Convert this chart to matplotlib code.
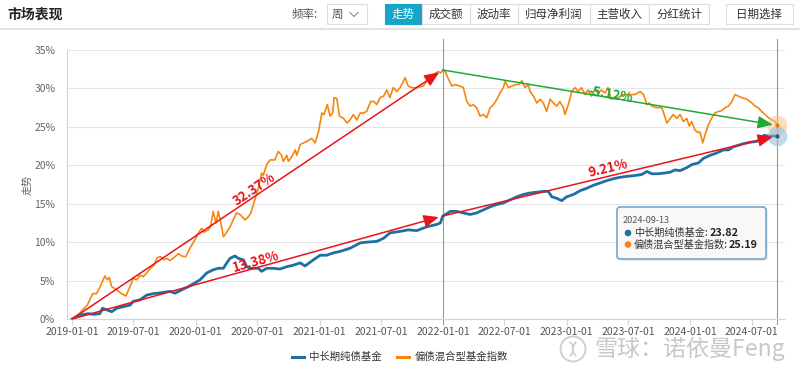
import numpy as np
import pandas as pd
import matplotlib
matplotlib.use('Agg')
import matplotlib.pyplot as plt
import matplotlib.dates as mdates
from matplotlib.patches import Rectangle, FancyBboxPatch, Circle, Arc
from matplotlib.lines import Line2D

plt.rcParams['font.family'] = ['Noto Sans CJK SC', 'DejaVu Sans']

# 偏债混合型基金指数 (%)
orange_dates = [
    '2019-01-01', '2019-01-22', '2019-02-15', '2019-03-03', '2019-03-14', '2019-03-25', '2019-04-08',
    '2019-04-15', '2019-04-21', '2019-04-28', '2019-05-13', '2019-05-27', '2019-06-09', '2019-06-21',
    '2019-07-01', '2019-07-11', '2019-07-21', '2019-07-30', '2019-08-10', '2019-08-20', '2019-08-31',
    '2019-09-10', '2019-09-20', '2019-09-28', '2019-10-08', '2019-10-17', '2019-10-27', '2019-11-11',
    '2019-11-21', '2019-12-03', '2019-12-15', '2019-12-30', '2020-01-09', '2020-01-19', '2020-01-26',
    '2020-02-07', '2020-02-14', '2020-02-22', '2020-03-01', '2020-03-08', '2020-03-15', '2020-03-23',
    '2020-04-02', '2020-04-12', '2020-04-21', '2020-05-01', '2020-05-11', '2020-05-26', '2020-06-05',
    '2020-06-12', '2020-06-24', '2020-07-04', '2020-07-14', '2020-07-19', '2020-07-29', '2020-08-08',
    '2020-08-22', '2020-09-01', '2020-09-11', '2020-09-16', '2020-09-26', '2020-10-01', '2020-10-11',
    '2020-10-21', '2020-10-26', '2020-11-05', '2020-11-14', '2020-11-24', '2020-12-09', '2020-12-19',
    '2020-12-29', '2021-01-08', '2021-01-14', '2021-01-24', '2021-02-01', '2021-02-09', '2021-02-13',
    '2021-02-21', '2021-03-01', '2021-03-13', '2021-03-23', '2021-04-01', '2021-04-11', '2021-04-21',
    '2021-05-01', '2021-05-10', '2021-05-20', '2021-06-01', '2021-06-11', '2021-06-19', '2021-06-29',
    '2021-07-09', '2021-07-19', '2021-07-28', '2021-08-07', '2021-08-17', '2021-08-27', '2021-09-11',
    '2021-09-20', '2021-09-30', '2021-10-15', '2021-11-03', '2021-11-18', '2021-12-03', '2021-12-18',
    '2021-12-25', '2021-12-31', '2022-01-07', '2022-01-17', '2022-01-27', '2022-02-05', '2022-02-20',
    '2022-03-02', '2022-03-12', '2022-03-22', '2022-03-31', '2022-04-10', '2022-04-20', '2022-04-30',
    '2022-05-10', '2022-05-20', '2022-05-30', '2022-06-09', '2022-06-18', '2022-06-28', '2022-07-03',
    '2022-07-13', '2022-07-23', '2022-08-02', '2022-08-12', '2022-08-22', '2022-08-31', '2022-09-10',
    '2022-09-15', '2022-09-25', '2022-10-05', '2022-10-15', '2022-10-24', '2022-11-03', '2022-11-13',
    '2022-11-23', '2022-12-03', '2022-12-12', '2022-12-22', '2022-12-27', '2023-01-06', '2023-01-16',
    '2023-01-26', '2023-02-04', '2023-02-14', '2023-02-24', '2023-03-05', '2023-03-15', '2023-03-25',
    '2023-04-04', '2023-04-14', '2023-04-24', '2023-05-03', '2023-05-13', '2023-05-23', '2023-06-02',
    '2023-06-17', '2023-07-07', '2023-07-22', '2023-08-06', '2023-08-16', '2023-08-26', '2023-09-02',
    '2023-09-09', '2023-09-24', '2023-10-09', '2023-10-16', '2023-10-24', '2023-11-03', '2023-11-12',
    '2023-11-22', '2023-12-02', '2023-12-12', '2023-12-22', '2023-12-29', '2024-01-05', '2024-01-15',
    '2024-01-22', '2024-01-30', '2024-02-07', '2024-02-14', '2024-02-24', '2024-03-05', '2024-03-14',
    '2024-03-24', '2024-04-03', '2024-04-13', '2024-04-23', '2024-05-03', '2024-05-12', '2024-05-22',
    '2024-06-01', '2024-06-16', '2024-07-01', '2024-07-11', '2024-07-20', '2024-07-30', '2024-08-09',
    '2024-08-19', '2024-08-29', '2024-09-08', '2024-09-13']
orange_vals = [
    0.0, 0.7, 1.8, 3.3, 3.3, 4.2, 5.6,
    5.1, 5.4, 4.2, 3.8, 3.3, 3.0, 4.2,
    5.3, 5.1, 5.7, 5.5, 6.0, 6.6, 7.0,
    8.0, 8.1, 7.7, 7.9, 7.6, 7.9, 8.5,
    8.2, 8.1, 9.2, 10.3, 11.2, 11.8, 11.3,
    11.6, 12.0, 14.0, 12.5, 14.0, 12.6, 10.7,
    11.3, 12.0, 12.9, 13.8, 13.6, 12.9, 13.3,
    13.8, 15.5, 17.0, 19.0, 18.7, 20.1, 20.7,
    20.7, 21.8, 21.3, 20.5, 21.3, 20.5, 21.1,
    22.0, 21.3, 22.7, 22.9, 23.1, 23.5, 22.9,
    24.4, 26.8, 26.6, 27.9, 26.4, 26.8, 28.8,
    28.7, 26.4, 26.1, 25.5, 25.9, 26.6, 25.9,
    26.8, 26.8, 27.0, 28.3, 28.3, 27.9, 28.8,
    29.0, 29.8, 28.8, 30.1, 29.6, 30.1, 31.4,
    30.3, 30.1, 30.1, 30.3, 31.2, 31.8, 32.2,
    32.0, 32.4, 32.2, 31.2, 30.3, 30.5, 30.3,
    30.1, 28.3, 27.7, 27.9, 27.5, 26.4, 26.6,
    26.2, 27.5, 27.9, 28.6, 29.4, 30.1, 30.9,
    30.1, 30.3, 30.5, 30.5, 31.0, 30.1, 30.5,
    29.6, 29.0, 28.1, 28.6, 28.1, 27.0, 28.6,
    28.1, 27.7, 28.3, 27.5, 26.6, 27.9, 29.6,
    30.1, 29.6, 30.1, 29.2, 29.8, 29.0, 29.8,
    29.4, 29.8, 29.4, 30.1, 28.6, 28.8, 28.8,
    29.2, 29.2, 29.2, 29.6, 29.2, 27.9, 28.1,
    27.7, 27.5, 27.5, 26.6, 25.5, 26.1, 26.6,
    26.1, 26.6, 25.7, 26.1, 25.1, 25.7, 24.6,
    24.3, 24.3, 22.9, 24.0, 25.3, 26.2, 26.8,
    27.0, 27.1, 27.5, 27.7, 28.3, 29.2, 29.0,
    28.8, 28.6, 28.1, 27.7, 27.5, 27.0, 26.6,
    26.2, 25.9, 25.7, 25.19]

# 中长期纯债基金 (%)
blue_dates = [
    '2019-01-01', '2019-01-24', '2019-02-18', '2019-03-05', '2019-03-24', '2019-04-01', '2019-04-13',
    '2019-04-28', '2019-05-13', '2019-06-01', '2019-06-21', '2019-07-01', '2019-07-21', '2019-08-09',
    '2019-08-29', '2019-09-18', '2019-10-17', '2019-11-01', '2019-11-21', '2019-12-10', '2019-12-30',
    '2020-01-14', '2020-02-03', '2020-02-22', '2020-03-08', '2020-03-23', '2020-04-02', '2020-04-12',
    '2020-04-26', '2020-05-06', '2020-05-21', '2020-05-31', '2020-06-10', '2020-06-19', '2020-07-04',
    '2020-07-14', '2020-07-29', '2020-08-17', '2020-09-06', '2020-09-26', '2020-10-15', '2020-11-05',
    '2020-11-19', '2020-12-14', '2021-01-03', '2021-01-22', '2021-02-11', '2021-03-03', '2021-04-01',
    '2021-05-01', '2021-05-20', '2021-06-19', '2021-07-09', '2021-07-28', '2021-08-27', '2021-09-20',
    '2021-10-15', '2021-11-14', '2021-12-13', '2021-12-24', '2021-12-31', '2022-01-12', '2022-01-22',
    '2022-02-10', '2022-03-02', '2022-03-22', '2022-04-10', '2022-04-30', '2022-05-20', '2022-06-09',
    '2022-06-28', '2022-07-18', '2022-08-07', '2022-08-26', '2022-09-15', '2022-10-05', '2022-10-24',
    '2022-11-08', '2022-11-18', '2022-12-03', '2022-12-17', '2023-01-01', '2023-01-21', '2023-02-10',
    '2023-03-01', '2023-03-21', '2023-04-10', '2023-04-29', '2023-05-19', '2023-06-03', '2023-06-17',
    '2023-07-07', '2023-07-27', '2023-08-11', '2023-08-26', '2023-09-09', '2023-09-29', '2023-10-19',
    '2023-11-03', '2023-11-17', '2023-12-02', '2023-12-22', '2024-01-06', '2024-01-25', '2024-02-09',
    '2024-02-29', '2024-03-19', '2024-04-08', '2024-04-23', '2024-05-07', '2024-05-22', '2024-06-06',
    '2024-06-26', '2024-07-15', '2024-07-30', '2024-08-06', '2024-08-19', '2024-08-30', '2024-09-13']
blue_vals = [
    0.0, 0.5, 0.7, 0.6, 0.7, 1.4, 1.2,
    0.95, 1.4, 1.6, 1.8, 2.3, 2.5, 3.1,
    3.3, 3.4, 3.6, 3.35, 3.8, 4.2, 4.7,
    5.1, 6.0, 6.4, 6.6, 6.6, 7.3, 7.9,
    8.2, 7.9, 7.7, 6.8, 6.6, 6.6, 6.6,
    6.2, 6.6, 6.6, 6.5, 6.8, 7.0, 7.3,
    6.9, 7.7, 8.3, 8.3, 8.6, 8.8, 9.2,
    9.9, 10.0, 10.1, 10.5, 11.2, 11.4, 11.6,
    11.5, 12.0, 12.3, 12.5, 13.4, 13.7, 14.0,
    14.0, 13.8, 13.6, 13.8, 14.2, 14.6, 14.9,
    15.1, 15.5, 15.9, 16.2, 16.4, 16.5, 16.6,
    16.6, 15.9, 15.7, 15.4, 15.9, 16.2, 16.7,
    17.0, 17.4, 17.7, 18.0, 18.25, 18.4, 18.5,
    18.6, 18.7, 18.8, 19.2, 18.9, 18.9, 19.0,
    19.1, 19.4, 19.3, 19.7, 20.1, 20.3, 20.9,
    21.3, 21.6, 22.0, 22.0, 22.4, 22.6, 22.8,
    23.0, 23.1, 23.5, 23.9, 23.8, 23.8, 23.82]

series_names = ['中长期纯债基金', '偏债混合型基金指数']
arrow_labels = ['32.37%', '13.38%', '9.21%', '-5.12%']
tick_dates = pd.date_range('2019-01-01', '2024-07-01', freq='6MS')
pivot = pd.Timestamp('2022-01-01')
tip_date = '2024-09-13'

BLUE = '#1f6fa3'
ORANGE = '#f7860f'
RED = '#e8141b'
GREEN = '#1faa37'

od = mdates.date2num(pd.to_datetime(orange_dates))
bd = mdates.date2num(pd.to_datetime(blue_dates))
ov_ = np.array(orange_vals)
bv_ = np.array(blue_vals)

fig = plt.figure(figsize=(8, 3.72), dpi=100)
ax = fig.add_axes([67 / 800, 1 - 319 / 372, (785 - 67) / 800, (319 - 50) / 372])

ax.plot(od, ov_, color=ORANGE, lw=1.2, zorder=3)
ax.plot(bd, bv_, color=BLUE, lw=2.0, zorder=4)

ax.set_xlim(mdates.date2num(pd.Timestamp('2018-12-17')), mdates.date2num(pd.Timestamp('2024-10-07')))
ax.set_ylim(0, 35)
ax.set_yticks(range(0, 36, 5))
ax.set_yticklabels([f'{v}%' for v in range(0, 36, 5)])
ax.set_xticks(mdates.date2num(tick_dates))
ax.set_xticklabels([d.strftime('%Y-%m-%d') for d in tick_dates])
ax.tick_params(axis='y', length=0, pad=8.5, labelsize=7.5, labelcolor='#666666')
ax.tick_params(axis='x', length=4, width=0.8, color='#ccd6eb', pad=2, labelsize=7.5, labelcolor='#555555')
ax.yaxis.grid(True, color='#e6e6e6', lw=0.8)
ax.set_axisbelow(True)
for s in ['top', 'right']:
    ax.spines[s].set_visible(False)
for s in ['left', 'bottom']:
    ax.spines[s].set_color('#ccd6eb')
    ax.spines[s].set_linewidth(0.8)

# crosshair-like vertical lines
pnum = mdates.date2num(pivot)
end_num = mdates.date2num(pd.Timestamp(tip_date))
for xv in [pnum, end_num]:
    ax.axvline(xv, ymin=-0.02, ymax=1.04, color='#999999', lw=0.8, clip_on=False, zorder=2)

# arrows
oi = int(np.argmin(np.abs(od - pnum)))
bi = int(np.argmin(np.abs(bd - pnum)))
segments = [
    ((od[0], ov_[0]), (od[oi], ov_[oi]), RED, arrow_labels[0], 6),
    ((bd[0], bv_[0]), (bd[bi], bv_[bi]), RED, arrow_labels[1], 6),
    ((bd[bi], bv_[bi]), (bd[-1], bv_[-1]), RED, arrow_labels[2], 8),
    ((od[oi], ov_[oi]), (od[-1], ov_[-1]), GREEN, arrow_labels[3], 3),
]
for p0, p1, col, lab, off in segments:
    ax.annotate('', xy=p1, xytext=p0,
                arrowprops=dict(arrowstyle='-|>,head_length=0.9,head_width=0.38',
                                color=col, lw=1.1, shrinkA=0, shrinkB=3, mutation_scale=10),
                zorder=6)
    a = ax.transData.transform(p0)
    b = ax.transData.transform(p1)
    ang = np.degrees(np.arctan2(b[1] - a[1], b[0] - a[0]))
    mid = ((p0[0] + p1[0]) / 2, (p0[1] + p1[1]) / 2)
    t = np.radians(ang)
    dx, dy = -np.sin(t) * off * 0.72, np.cos(t) * off * 0.72
    ax.annotate(lab, xy=mid, xytext=(dx, dy), textcoords='offset points',
                rotation=ang, rotation_mode='anchor', ha='center', va='center',
                color=col, fontsize=9.5, fontweight='bold', zorder=7)

# end markers
ax.scatter([od[-1]], [ov_[-1]], s=200, color='#f9c38e', alpha=0.55, zorder=5, clip_on=False, lw=0)
ax.scatter([bd[-1]], [bv_[-1]], s=200, color='#8fbcd9', alpha=0.55, zorder=5, clip_on=False, lw=0)
ax.scatter([od[-1]], [ov_[-1]], s=9, color='#e8760a', zorder=8, clip_on=False, lw=0)
ax.scatter([bd[-1]], [bv_[-1]], s=9, color='#185f8f', zorder=8, clip_on=False, lw=0)

# overlay in pixel coords for header, tooltip, legend, watermark
ov = fig.add_axes([0, 0, 1, 1], zorder=5)
ov.set_xlim(0, 800)
ov.set_ylim(372, 0)
ov.axis('off')
ov.patch.set_alpha(0)

ov.text(7, 15, '市场表现', fontsize=10, fontweight='bold', color='#222222', va='center', ha='left')
ov.plot([0, 800], [28.5, 28.5], color='#dddddd', lw=1.2)
ov.text(292, 14.5, '频率:', fontsize=8.3, color='#555555', va='center', ha='left')
ov.add_patch(Rectangle((327, 4), 40, 20, fc='white', ec='#dddddd', lw=0.8))
ov.text(337, 14.5, '周', fontsize=8.3, color='#555555', va='center', ha='center')
ov.plot([350, 354, 358], [12.5, 16.5, 12.5], color='#888888', lw=0.8)

btn_labels = ['走势', '成交额', '波动率', '归母净利润', '主营收入', '分红统计']
btn_edges = [385, 421.7, 469.7, 518.3, 589.7, 649, 709.3]
for i, lab in enumerate(btn_labels):
    x0, x1 = btn_edges[i], btn_edges[i + 1]
    first = i == 0
    ov.add_patch(Rectangle((x0, 4), x1 - x0, 20, fc='#16a4c9' if first else 'white',
                           ec='#16a4c9' if first else '#dddddd', lw=0.8))
    ov.text((x0 + x1) / 2, 14.5, lab, fontsize=8.3, color='white' if first else '#333333',
            va='center', ha='center')
ov.add_patch(Rectangle((726, 4), 67, 20, fc='white', ec='#dddddd', lw=0.8))
ov.text(759.5, 14.5, '日期选择', fontsize=8.3, color='#333333', va='center', ha='center')

ov.text(27, 185, '走势', fontsize=7.3, color='#666666', rotation=90, va='center', ha='center')

# tooltip
ov.add_patch(FancyBboxPatch((619, 209), 149, 52, boxstyle='round,pad=0,rounding_size=3',
                            fc='#000000', ec='none', alpha=0.08))
ov.add_patch(FancyBboxPatch((617, 207), 149, 52, boxstyle='round,pad=0,rounding_size=3',
                            fc='#f9f9f9', ec='#6aa3cc', lw=1.2, alpha=0.95))
ov.text(623, 220.5, tip_date, fontsize=6.6, color='#555555', va='center', ha='left')
ov.add_patch(Circle((628, 233), 2.6, color=BLUE))
ov.text(634, 233, series_names[0] + ':', fontsize=7.3, color='#333333', va='center', ha='left')
ov.text(710, 233, f'{blue_vals[-1]:.2f}', fontsize=7.8, color='#222222', fontweight='bold',
        va='center', ha='left')
ov.add_patch(Circle((628, 244.5), 2.6, color=ORANGE))
ov.text(634, 244.5, series_names[1] + ':', fontsize=7.3, color='#333333', va='center', ha='left')
ov.text(729, 244.5, f'{orange_vals[-1]:.2f}', fontsize=7.8, color='#222222', fontweight='bold',
        va='center', ha='left')

# watermark
ov.add_patch(Circle((573, 349), 12.5, fill=False, ec='#cfcfcf', lw=1.4))
ov.add_patch(Arc((567, 349), 12, 16, theta1=-70, theta2=70, ec='#cfcfcf', lw=1.3))
ov.add_patch(Arc((579, 349), 12, 16, theta1=110, theta2=250, ec='#cfcfcf', lw=1.3))
ov.text(594, 349, '雪球：诺依曼Feng', fontsize=16.6, color='#c8c8c8', fontweight='light',
        va='center', ha='left')

handles = [Line2D([], [], color=BLUE, lw=2.2), Line2D([], [], color=ORANGE, lw=2.2)]
fig.legend(handles, series_names, loc='center', bbox_to_anchor=(0.5, 1 - 357 / 372), ncol=2,
           frameon=False, fontsize=7.5, handlelength=1.15, handletextpad=0.5, columnspacing=1.5,
           labelcolor='#333333')

fig.savefig('out.png', dpi=100)
